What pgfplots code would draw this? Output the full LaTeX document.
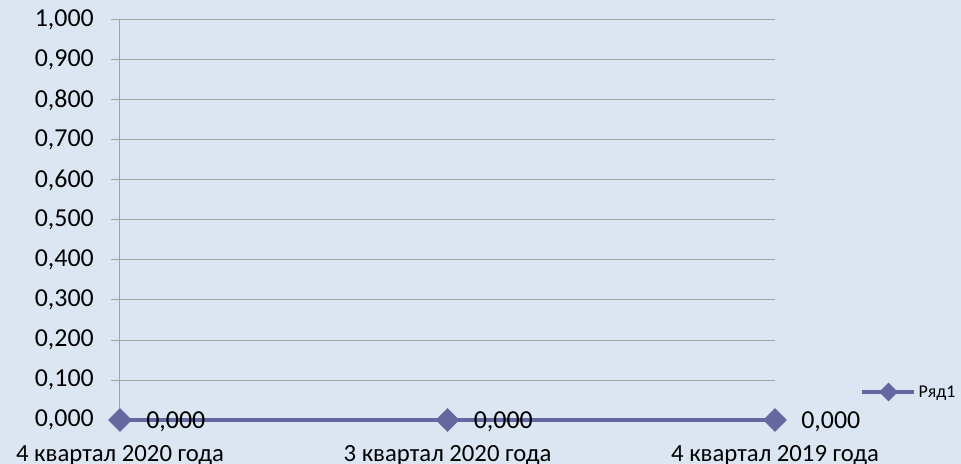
\documentclass[border=0pt]{standalone}
\usepackage{fontspec}
\setmainfont{Carlito}
\usepackage{pgfplots}
\pgfplotsset{compat=1.18}
\definecolor{bg}{RGB}{220,230,242}
\definecolor{ser}{RGB}{102,102,160}
\definecolor{grd}{RGB}{162,162,162}
\begin{document}
\begin{tikzpicture}
\fill[bg] (-120bp,-44bp) rectangle (841bp,420bp);
\path[use as bounding box] (-120bp,-44bp) rectangle (841bp,420bp);
\begin{axis}[
  at={(0,0)}, anchor=south west,
  scale only axis, width=655bp, height=400bp,
  xmin=0, xmax=2, ymin=0, ymax=1,
  clip=false,
  axis lines*=left,
  x axis line style={draw=none},
  y axis line style={draw=grd, line width=1bp},
  xtick={0,1,2},
  xticklabels={4 квартал 2020 года, 3 квартал 2020 года, 4 квартал 2019 года},
  xtick style={draw=none},
  ytick={0,0.1,0.2,0.3,0.4,0.5,0.6,0.7,0.8,0.9,1},
  ymajorgrids,
  major grid style={draw=grd, line width=1bp},
  ytick style={draw=grd, line width=1bp},
  tick align=outside,
  major tick length=9bp,
  /pgf/number format/assume math mode=true,
  yticklabel style={/pgf/number format/fixed, /pgf/number format/fixed zerofill, /pgf/number format/precision=3, /pgf/number format/use comma, /pgf/number format/1000 sep={}},
  yticklabel style={font=\fontsize{26}{30}\selectfont, inner sep=0pt, anchor=east, xshift=-17bp},
  xticklabel style={font=\fontsize{24.8}{30}\selectfont, inner sep=0pt, anchor=base, yshift=-32bp},
  legend style={at={(1.1298,0.07)}, anchor=west, draw=none, fill=none, inner sep=0pt,
    font=\fontsize{18}{20}\selectfont, legend cell align=left},
  legend image code/.code={
    \draw[#1, line width=4.5bp] (0bp,0bp) -- (52bp,0bp);
    \fill[ser] (26bp,0bp) +(-6bp,0) -- +(0,6bp) -- +(6bp,0) -- +(0,-6bp) -- cycle;
  },
]
\addplot[draw=ser, line width=4.7bp, mark=square*, mark size=6bp,
  mark options={fill=ser, draw=none, rotate=45},
  nodes near coords={\pgfmathprintnumber[fixed, fixed zerofill, precision=3, use comma]{\pgfplotspointmeta}},
  nodes near coords align={horizontal},
  every node near coord/.append style={anchor=west, inner sep=0pt, xshift=24bp, yshift=-2bp, text=black, font=\fontsize{26}{30}\selectfont}]
  coordinates {(0,0) (1,0) (2,0)};
\addlegendentry{Ряд1}
\end{axis}
\end{tikzpicture}
\end{document}
